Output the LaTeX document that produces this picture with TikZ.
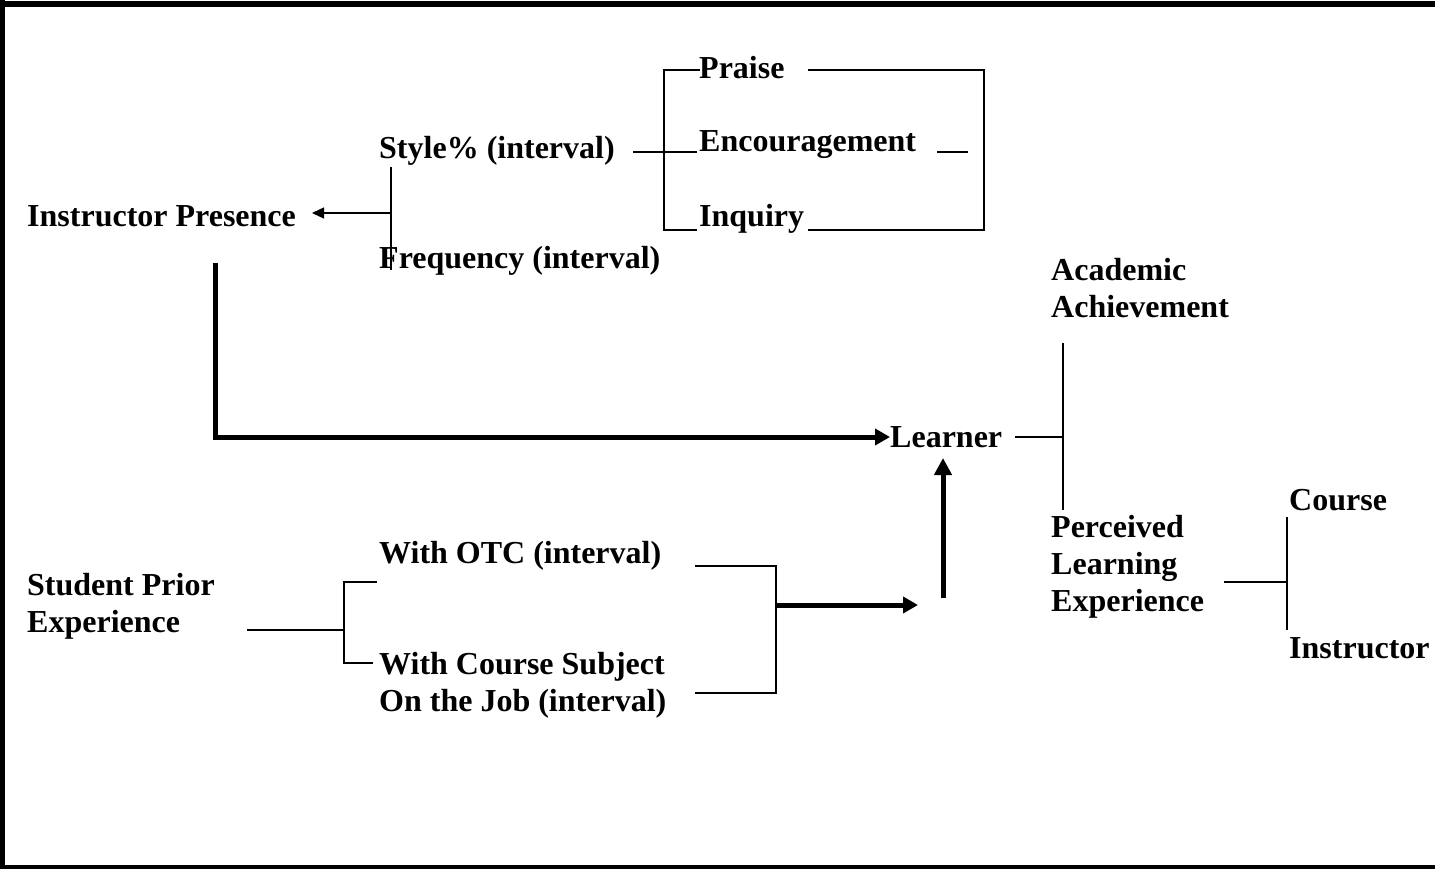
\documentclass[tikz,border=0pt]{standalone}
\usepackage{fontspec}
\setmainfont{Liberation Serif}
\usetikzlibrary{arrows.meta}
\begin{document}
\begin{tikzpicture}[x=1pt,y=-1pt,
  lbl/.style={anchor=base west,inner sep=0pt,align=left,font=\fontsize{32}{37}\selectfont\bfseries},
  thin/.style={line width=1.4pt},
  thick/.style={line width=5pt}]
\useasboundingbox (0,0) rectangle (1435,869);
% frame
\draw[line width=6pt] (0,4) -- (1435,4);
\draw[line width=5pt] (2.5,0) -- (2.5,869);
\draw[line width=4pt] (0,867) -- (1435,867);
% labels (multi-line nodes: base = last line)
\node[lbl] (ip) at (27,227) {Instructor Presence};
\node[lbl] (sty) at (379,159) {Style\% (interval)};
\node[lbl] (frq) at (379,269) {Frequency (interval)};
\node[lbl] (pr) at (699,79) {Praise};
\node[lbl] (enc) at (699,152) {Encouragement};
\node[lbl] (inq) at (699,226) {Inquiry};
\node[lbl] (lrn) at (890,447) {Learner};
\node[lbl] (aa) at (1051,317) {Academic\\Achievement};
\node[lbl] (ple) at (1051,611) {Perceived\\Learning\\Experience};
\node[lbl] (crs) at (1289,510) {Course};
\node[lbl] (ins) at (1289,658) {Instructor};
\node[lbl] (otc) at (379,563) {With OTC (interval)};
\node[lbl] (job) at (379,711) {With Course Subject\\On the Job (interval)};
\node[lbl] (spe) at (27,632) {Student Prior\\Experience};
% instructor presence branch
\coordinate (ipj) at (391,213);
\draw[thin] (391,167) -- (391,270);
\draw[thin,-{Triangle[length=12pt,width=11pt]}] (ipj) -- (312,213);
% style bracket
\draw[thin] (633,152) -- (697,152);
\draw[thin] (700,70) -- (664,70) -- (664,230) -- (697,230);
\draw[thin] (808,70) -- (984,70) -- (984,230) -- (808,230);
\draw[thin] (937,152) -- (968,152);
% thick L to learner
\draw[thick,-{Triangle[length=15pt,width=16pt]}] (215,263) -- (215,437) -- (lrn.west |- 0,437);
% outcomes
\draw[thin] (1015,437) -- (1063,437);
\draw[thin] (1063,343) -- (1063,510);
\draw[thin] (1224,582) -- (1287,582);
\draw[thin] (1287,517) -- (1287,630);
% student prior experience
\draw[thin] (247,630) -- (344,630);
\draw[thin] (377,582) -- (344,582) -- (344,663) -- (373,663);
\draw[thin] (695,566) -- (776,566) -- (776,693) -- (695,693);
\draw[thick,-{Triangle[length=15pt,width=16pt]}] (776,605) -- (918,605);
\draw[thick,-{Triangle[length=17pt,width=17pt]}] (943,598) -- (943,458);
\end{tikzpicture}
\end{document}
